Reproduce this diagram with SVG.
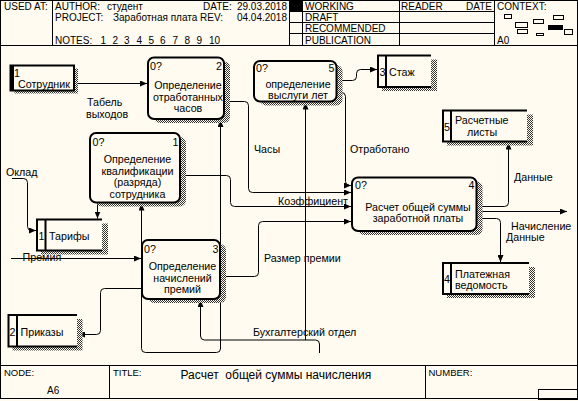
<svg xmlns="http://www.w3.org/2000/svg" width="578" height="401" viewBox="0 0 578 401">
<defs>
<pattern id="hatch" width="2" height="2" patternUnits="userSpaceOnUse"><rect width="2" height="2" fill="#fffbf0"/><rect width="1" height="1" fill="#333"/><rect x="1" y="1" width="1" height="1" fill="#333"/></pattern>
<marker id="arr" markerWidth="7" markerHeight="6" refX="7" refY="3" orient="auto" markerUnits="userSpaceOnUse"><path d="M0,0 L7,3 L0,6 z" fill="#000"/></marker>
<style>
text{font-family:"Liberation Sans",Arial,sans-serif;fill:#000}
.h{font-size:10px}
.f{font-size:9.5px}
.t{font-size:10.7px}
.ttl{font-size:12px}
.ln{fill:none;stroke:#000;stroke-width:1}
.c{fill:none;stroke:#000;stroke-width:1;marker-end:url(#arr)}
.box{fill:#fffbf0;stroke:#000;stroke-width:2}
.bg{fill:#fffbf0}
.sh{fill:url(#hatch)}
.st{fill:none;stroke:#000;stroke-width:2}
.m{text-anchor:middle}
.e{text-anchor:end}
</style>
</defs>
<rect width="578" height="401" fill="#fffbf0"/>

<g id="frame">
<rect x="0.5" y="0.5" width="577" height="398" class="ln"/>
<path class="ln" d="M0,45.5 H578 M52.5,0 V45 M289.5,0 V45 M302.5,0 V45 M399.5,0 V45 M494.5,0 V45 M289,11.5 H494 M289,22.5 H494 M289,33.5 H494"/>
<rect x="289" y="0" width="13.5" height="11.5" fill="#000"/>
<text class="h" x="4" y="10">USED AT:</text>
<text class="h" x="55" y="10">AUTHOR:</text>
<text class="h" x="107" y="10">студент</text>
<text class="h" x="203" y="10">DATE:</text>
<text class="h e" x="287" y="10">29.03.2018</text>
<text class="h" x="55" y="20.5">PROJECT:</text>
<text class="h" x="113" y="20.5">Заработная плата</text>
<text class="h" x="200" y="20.5">REV:</text>
<text class="h e" x="287" y="20.5">04.04.2018</text>
<text class="h" x="55" y="44">NOTES:</text>
<text class="h" y="44"><tspan x="100.5">1</tspan><tspan x="112.5">2</tspan><tspan x="124">3</tspan><tspan x="136.5">4</tspan><tspan x="148.5">5</tspan><tspan x="160">6</tspan><tspan x="172.5">7</tspan><tspan x="184.5">8</tspan><tspan x="196.5">9</tspan><tspan x="209">10</tspan></text>
<text class="h" x="305" y="10">WORKING</text>
<text class="h" x="305" y="21">DRAFT</text>
<text class="h" x="305" y="32">RECOMMENDED</text>
<text class="h" x="305" y="43.5">PUBLICATION</text>
<text class="h" x="401" y="10">READER</text>
<text class="h e" x="492" y="10">DATE</text>
<text class="h" x="497" y="10">CONTEXT:</text>
<text class="h" x="497" y="43.5">A0</text>
<g class="ln">
<rect x="504.5" y="14.5" width="7" height="4"/>
<rect x="515.5" y="22.5" width="12" height="5"/>
<rect x="533.5" y="19.5" width="10" height="4"/>
<rect x="553.5" y="15.5" width="10" height="4"/>
<rect x="517.5" y="29.5" width="10" height="4"/>
<rect x="536.5" y="33.5" width="7" height="2"/>
<rect x="564.5" y="29.5" width="8" height="5"/>
</g>
<rect x="548" y="25" width="15" height="5" fill="#000"/>
<path class="ln" d="M0,365.5 H578 M109.5,365 V399 M425.5,365 V399"/>
<rect x="538.5" y="389.5" width="39" height="10" class="ln"/>
<text class="f" x="4" y="375.5">NODE:</text>
<text class="h" x="47" y="394">A6</text>
<text class="f" x="113" y="375.5">TITLE:</text>
<text class="ttl" x="180.5" y="379" xml:space="preserve" style="white-space:pre">Расчет  общей суммы начисления</text>
<text class="f" x="428.5" y="375.5">NUMBER:</text>
</g>

<g id="connectors">
<path class="c" d="M74,83.5 H147"/>
<path class="c" d="M225,101.5 H244.5 Q248.5,101.5 248.5,105.5 V188.5 Q248.5,192.5 252.5,192.5 H351"/>
<path class="c" d="M337,92.5 H341.5 Q345.5,92.5 345.5,96.5 V181.5 Q345.5,185.5 349.5,185.5 H351"/>
<path class="c" d="M181,175.5 H226.5 Q230.5,175.5 230.5,179.5 V202.5 Q230.5,206.5 234.5,206.5 H351"/>
<path class="c" d="M221,276.5 H254.5 Q258.5,276.5 258.5,272.5 V225.5 Q258.5,221.5 262.5,221.5 H351"/>
<path class="c" d="M337,80.5 H352.5 Q356.5,80.5 356.5,76.5 V73.5 Q356.5,69.5 360.5,69.5 H377"/>
<path class="c" d="M12,178.5 H23.5 Q27.5,178.5 27.5,182.5 V226.5 Q27.5,230.5 31.5,230.5 H36"/>
<path class="c" d="M97.5,204 V218.5"/>
<path class="c" d="M11,258.5 H141"/>
<path class="c" d="M141,288.5 H104.5 Q100.5,288.5 100.5,292.5 V330.5 Q100.5,334.5 96.5,334.5 H78"/>
<path class="c" d="M477.5,206.5 H504.5 Q508.5,206.5 508.5,202.5 V142.5"/>
<path class="c" d="M477.5,211.5 H567"/>
<path class="c" d="M477.5,218.5 H496.5 Q500.5,218.5 500.5,222.5 V262"/>
<path class="c" d="M319.5,353 V344 Q319.5,340 315.5,340 H204.5 Q200.5,340 200.5,336 V300"/>
<path class="c" d="M305.5,340 V102.5"/>
<path class="c" d="M220.5,349 V120"/>
<path class="c" d="M220.5,348.5 Q220.5,352.5 216.5,352.5 H145.5 Q141.5,352.5 141.5,348.5 V203.5"/>
<text class="t" x="87" y="106">Табель</text>
<text class="t" x="86" y="117.5">выходов</text>
<text class="t" x="254" y="153">Часы</text>
<text class="t" x="350" y="153">Отработано</text>
<text class="t" x="278" y="204.5">Коэффициент</text>
<text class="t" x="264" y="262">Размер премии</text>
<text class="t" x="253" y="336">Бухгалтерский отдел</text>
<text class="t" x="6" y="176">Оклад</text>
<text class="t" x="22.5" y="261">Премия</text>
<text class="t" x="514" y="181">Данные</text>
<text class="t" x="511" y="229.5">Начисление</text>
<text class="t" x="506" y="241">Данные</text>
</g>

<g id="ext-1">
<rect x="14.5" y="68.5" width="63.5" height="25" class="sh"/>
<rect x="10.5" y="65.5" width="63.5" height="25" class="box"/>
<path d="M12,65 V91" stroke="#000" stroke-width="4"/>
<text class="t" x="14" y="77">1</text>
<text class="t" x="18" y="88">Сотрудник</text>
</g>

<g id="box-2">
<rect x="154" y="61.5" width="76" height="61.5" rx="6" class="sh"/>
<rect x="148" y="57.5" width="76" height="61.5" rx="6" class="box"/>
<text class="t" x="150" y="70">0?</text>
<text class="t e" x="222" y="70">2</text>
<text class="t m" x="188" y="89">Определение</text>
<text class="t m" x="188" y="100.5">отработанных</text>
<text class="t m" x="188" y="111.5">часов</text>
</g>

<g id="box-5">
<rect x="260" y="65" width="82.5" height="40.5" rx="6" class="sh"/>
<rect x="254" y="61" width="82.5" height="40.5" rx="6" class="box"/>
<text class="t" x="256" y="72">0?</text>
<text class="t e" x="334.5" y="72">5</text>
<text class="t m" x="298" y="87.5">определение</text>
<text class="t m" x="298" y="98.5">выслуги лет</text>
</g>

<g id="box-1">
<rect x="96" y="137" width="90" height="69.5" rx="6" class="sh"/>
<rect x="90" y="133" width="90" height="69.5" rx="6" class="box"/>
<text class="t" x="92.5" y="146">0?</text>
<text class="t e" x="178.5" y="146">1</text>
<text class="t m" x="137.5" y="163">Определение</text>
<text class="t m" x="137.5" y="175">квалификации</text>
<text class="t m" x="137.5" y="186">(разряда)</text>
<text class="t m" x="137.5" y="197.5">сотрудника</text>
</g>

<g id="box-3">
<rect x="148" y="244" width="78" height="59" rx="6" class="sh"/>
<rect x="142" y="240" width="78" height="59" rx="6" class="box"/>
<text class="t" x="144" y="253">0?</text>
<text class="t e" x="218.5" y="253">3</text>
<text class="t m" x="182.5" y="270">Определение</text>
<text class="t m" x="182.5" y="281.5">начислений</text>
<text class="t m" x="182.5" y="292.5">премий</text>
</g>

<g id="box-4">
<rect x="358" y="181.5" width="124.5" height="53.5" rx="6" class="sh"/>
<rect x="352" y="177.5" width="124.5" height="53.5" rx="6" class="box"/>
<text class="t" x="355" y="189">0?</text>
<text class="t e" x="474.5" y="189">4</text>
<text class="t m" x="418" y="210.5">Расчет общей суммы</text>
<text class="t m" x="418" y="221.5">заработной платы</text>
</g>

<g id="store-tarify">
<rect x="41" y="223.5" width="67" height="31" class="sh"/>
<rect x="37" y="219.5" width="65" height="31" class="bg"/>
<path class="st" d="M102,219.5 H37 V250.5 H102 M45.5,219.5 V250.5"/>
<text class="t" x="38.5" y="240">1</text>
<text class="t" x="49" y="240">Тарифы</text>
</g>

<g id="store-prikazy">
<rect x="12.5" y="319" width="70" height="31.5" class="sh"/>
<rect x="8.5" y="315" width="68.5" height="31.5" class="bg"/>
<path class="st" d="M77,315 H8.5 V346.5 H77 M17,315 V346.5"/>
<text class="t" x="9.5" y="336">2</text>
<text class="t" x="20.5" y="336">Приказы</text>
</g>

<g id="store-stazh">
<rect x="382" y="59.5" width="55" height="31.5" class="sh"/>
<rect x="378" y="55.5" width="53" height="31.5" class="bg"/>
<path class="st" d="M431,55.5 H378 V87 H431 M386,55.5 V87"/>
<text class="t" x="379.5" y="76">3</text>
<text class="t" x="389" y="76">Стаж</text>
</g>

<g id="store-listy">
<rect x="447" y="114.5" width="86" height="31" class="sh"/>
<rect x="443" y="110.5" width="84" height="31" class="bg"/>
<path class="st" d="M527,110.5 H443 V141.5 H527 M451,110.5 V141.5"/>
<text class="t" x="444" y="131">5</text>
<text class="t" x="455" y="124">Расчетные</text>
<text class="t" x="467" y="136">листы</text>
</g>

<g id="store-vedomost">
<rect x="447" y="267" width="88" height="31" class="sh"/>
<rect x="443" y="263" width="86" height="31" class="bg"/>
<path class="st" d="M529,263 H443 V294 H529 M451,263 V294"/>
<text class="t" x="444" y="283">4</text>
<text class="t" x="455" y="277.5">Платежная</text>
<text class="t" x="455" y="289">ведомость</text>
</g>
</svg>
